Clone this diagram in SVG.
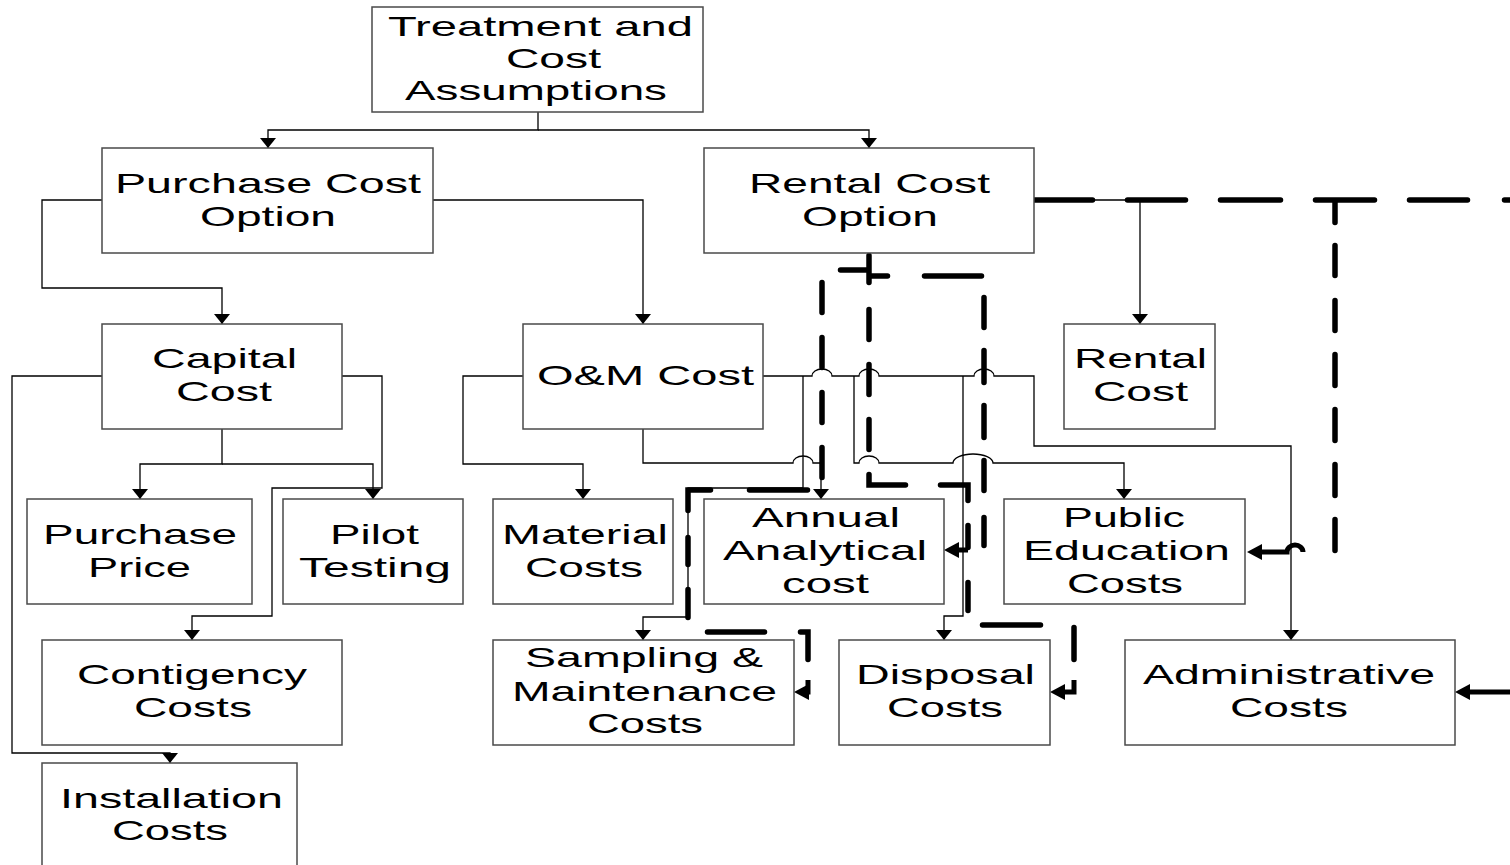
<svg xmlns="http://www.w3.org/2000/svg" width="1510" height="865" viewBox="0 0 1510 865">
<style>
.box{fill:#fff;stroke:#4a4a4a;stroke-width:1.5}
.t{font-family:"Liberation Sans",Arial,sans-serif;font-size:28px;fill:#000}
.ln{fill:none;stroke:#000;stroke-width:1.3}
.dl{fill:none;stroke:#000;stroke-width:5.5;stroke-linecap:round;stroke-linejoin:miter}
.sl{fill:none;stroke:#000;stroke-width:5;stroke-linejoin:miter}
</style>
<defs>
<marker id="ah" viewBox="0 0 10 16" refX="10" refY="8" markerWidth="10" markerHeight="16" markerUnits="userSpaceOnUse" orient="auto"><path d="M0,0L10,8L0,16z" fill="#000"/></marker>
<marker id="ahb" viewBox="0 0 15 16" refX="7" refY="8" markerWidth="15" markerHeight="16" markerUnits="userSpaceOnUse" orient="auto"><path d="M0,0L15,8L0,16z" fill="#000"/></marker>
</defs>
<rect width="1510" height="865" fill="#fff"/>

<g id="connectors">
<path class="ln" d="M538,112V130H268V148" marker-end="url(#ah)"/>
<path class="ln" d="M538,130H869V148" marker-end="url(#ah)"/>
<path class="ln" d="M102,200H42V288H222V324" marker-end="url(#ah)"/>
<path class="ln" d="M433,200H643V324" marker-end="url(#ah)"/>
<path class="ln" d="M222,429V464H140V499" marker-end="url(#ah)"/>
<path class="ln" d="M222,464H373V499" marker-end="url(#ah)"/>
<path class="ln" d="M342,376H382V488H272V616H192V640" marker-end="url(#ah)"/>
<path class="ln" d="M102,376H12V753H170V763" marker-end="url(#ah)"/>
<path class="ln" d="M523,376H463V464H583V499" marker-end="url(#ah)"/>
<path class="ln" d="M643,429V463H793a10,7 0 0 1 20,0H821V499" marker-end="url(#ah)"/>
<path class="ln" d="M763,376H812a10,7 0 0 1 20,0H859a10,7 0 0 1 20,0H974a10,7 0 0 1 20,0H1034V446H1291V640" marker-end="url(#ah)"/>
<path class="ln" d="M803,376V488H688V617H643V640" marker-end="url(#ah)"/>
<path class="ln" d="M854,376V463H859a10,7 0 0 1 20,0H953a20,9 0 0 1 40,0H1124V499" marker-end="url(#ah)"/>
<path class="ln" d="M963,376V616H944V640" marker-end="url(#ah)"/>
<path class="ln" d="M1034,200H1140V324" marker-end="url(#ah)"/>

<g id="dash-to-sampling">
<path class="dl" d="M840.5,270H866.5M822,282.5V312.5M822,337.5V367.5M822,392.5V422.5M822,447.5V477.5M807.5,490H749.5M710.5,490H688V510.5M688,537.5V564.5M688,589.5V617.5M707.5,632H764.5M800.5,632H808V659.5"/>
<path class="sl" d="M808,680V692H802" marker-end="url(#ahb)"/>
</g>
<g id="dash-to-disposal">
<path class="dl" d="M869,255.5V282.5M869,309.5V339.5M869,364.5V394.5M869,419.5V449.5M869,474.5V485H905.5M940.5,485H968V500.5M968,525.5V547.5M968,582.5V610.5M982.5,625H1040.5M1074,627.5V659.5"/>
<path class="sl" d="M1074,680V692H1058" marker-end="url(#ahb)"/>
</g>
<g id="dash-to-annual">
<path class="dl" d="M871.5,276H887.5M924.5,276H981.5M984,297.5V327.5M984,350.5V382.5M984,405.5V437.5M984,460.5V490.5M984,517.5V545.5"/>
<path class="sl" d="M968,550H952" marker-end="url(#ahb)"/>
</g>
<g id="dash-right">
<path class="dl" d="M1034.5,200H1092.5M1127.5,200H1185.5M1220.5,200H1280.5M1315.5,200H1374.5M1409.5,200H1467.5M1504.5,200H1514"/>
</g>
<g id="dash-to-public">
<path class="dl" d="M1335,202.5V222.5M1335,245.5V275.5M1335,300.5V330.5M1335,354.5V385.5M1335,409.5V440.5M1335,464.5V495.5M1335,519.5V550.5"/>
<path class="sl" d="M1303,552a8,7 0 0 0 -16,0H1255" marker-end="url(#ahb)"/>
</g>
<path class="sl" d="M1512,692H1463" marker-end="url(#ahb)"/>
</g>

<g id="n-treatment"><rect class="box" x="372" y="7" width="331" height="105"/>
<text class="t" x="388" y="36" textLength="305" lengthAdjust="spacingAndGlyphs">Treatment and</text>
<text class="t" x="506" y="68" textLength="95" lengthAdjust="spacingAndGlyphs">Cost</text>
<text class="t" x="405" y="100" textLength="262" lengthAdjust="spacingAndGlyphs">Assumptions</text></g>

<g id="n-purchase-option"><rect class="box" x="102" y="148" width="331" height="105"/>
<text class="t" x="115" y="193" textLength="306" lengthAdjust="spacingAndGlyphs">Purchase Cost</text>
<text class="t" x="200" y="226" textLength="136" lengthAdjust="spacingAndGlyphs">Option</text></g>

<g id="n-rental-option"><rect class="box" x="704" y="148" width="330" height="105"/>
<text class="t" x="749" y="193" textLength="241" lengthAdjust="spacingAndGlyphs">Rental Cost</text>
<text class="t" x="802" y="226" textLength="136" lengthAdjust="spacingAndGlyphs">Option</text></g>

<g id="n-capital"><rect class="box" x="102" y="324" width="240" height="105"/>
<text class="t" x="152" y="368" textLength="145" lengthAdjust="spacingAndGlyphs">Capital</text>
<text class="t" x="176" y="401" textLength="96" lengthAdjust="spacingAndGlyphs">Cost</text></g>

<g id="n-om"><rect class="box" x="523" y="324" width="240" height="105"/>
<text class="t" x="537" y="385" textLength="217" lengthAdjust="spacingAndGlyphs">O&amp;M Cost</text></g>

<g id="n-rental-cost"><rect class="box" x="1064" y="324" width="151" height="105"/>
<text class="t" x="1074" y="368" textLength="133" lengthAdjust="spacingAndGlyphs">Rental</text>
<text class="t" x="1093" y="401" textLength="95" lengthAdjust="spacingAndGlyphs">Cost</text></g>

<g id="n-purchase-price"><rect class="box" x="27" y="499" width="225" height="105"/>
<text class="t" x="43" y="544" textLength="194" lengthAdjust="spacingAndGlyphs">Purchase</text>
<text class="t" x="88" y="577" textLength="103" lengthAdjust="spacingAndGlyphs">Price</text></g>

<g id="n-pilot"><rect class="box" x="283" y="499" width="180" height="105"/>
<text class="t" x="330" y="544" textLength="89" lengthAdjust="spacingAndGlyphs">Pilot</text>
<text class="t" x="299" y="577" textLength="152" lengthAdjust="spacingAndGlyphs">Testing</text></g>

<g id="n-material"><rect class="box" x="493" y="499" width="180" height="105"/>
<text class="t" x="502" y="544" textLength="166" lengthAdjust="spacingAndGlyphs">Material</text>
<text class="t" x="525" y="577" textLength="118" lengthAdjust="spacingAndGlyphs">Costs</text></g>

<g id="n-annual"><rect class="box" x="704" y="499" width="240" height="105"/>
<text class="t" x="752" y="527" textLength="148" lengthAdjust="spacingAndGlyphs">Annual</text>
<text class="t" x="723" y="560" textLength="204" lengthAdjust="spacingAndGlyphs">Analytical</text>
<text class="t" x="782" y="593" textLength="87" lengthAdjust="spacingAndGlyphs">cost</text></g>

<g id="n-public"><rect class="box" x="1004" y="499" width="241" height="105"/>
<text class="t" x="1063" y="527" textLength="122" lengthAdjust="spacingAndGlyphs">Public</text>
<text class="t" x="1023" y="560" textLength="207" lengthAdjust="spacingAndGlyphs">Education</text>
<text class="t" x="1067" y="593" textLength="116" lengthAdjust="spacingAndGlyphs">Costs</text></g>

<g id="n-contigency"><rect class="box" x="42" y="640" width="300" height="105"/>
<text class="t" x="77" y="684" textLength="230" lengthAdjust="spacingAndGlyphs">Contigency</text>
<text class="t" x="134" y="717" textLength="118" lengthAdjust="spacingAndGlyphs">Costs</text></g>

<g id="n-sampling"><rect class="box" x="493" y="640" width="301" height="105"/>
<text class="t" x="525" y="667" textLength="238" lengthAdjust="spacingAndGlyphs">Sampling &amp;</text>
<text class="t" x="512" y="701" textLength="265" lengthAdjust="spacingAndGlyphs">Maintenance</text>
<text class="t" x="587" y="733" textLength="116" lengthAdjust="spacingAndGlyphs">Costs</text></g>

<g id="n-disposal"><rect class="box" x="839" y="640" width="211" height="105"/>
<text class="t" x="856" y="684" textLength="179" lengthAdjust="spacingAndGlyphs">Disposal</text>
<text class="t" x="887" y="717" textLength="116" lengthAdjust="spacingAndGlyphs">Costs</text></g>

<g id="n-admin"><rect class="box" x="1125" y="640" width="330" height="105"/>
<text class="t" x="1143" y="684" textLength="292" lengthAdjust="spacingAndGlyphs">Administrative</text>
<text class="t" x="1230" y="717" textLength="118" lengthAdjust="spacingAndGlyphs">Costs</text></g>

<g id="n-installation"><rect class="box" x="42" y="763" width="255" height="110"/>
<text class="t" x="60" y="808" textLength="223" lengthAdjust="spacingAndGlyphs">Installation</text>
<text class="t" x="112" y="840" textLength="116" lengthAdjust="spacingAndGlyphs">Costs</text></g>
</svg>
